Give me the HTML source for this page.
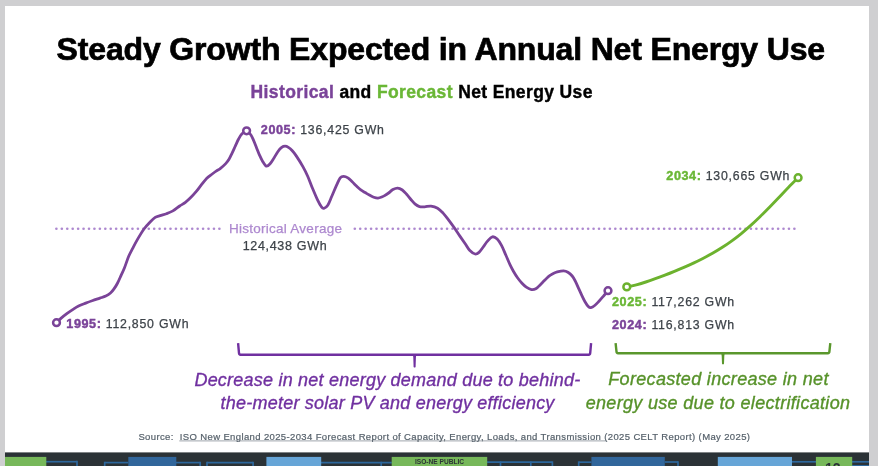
<!DOCTYPE html>
<html><head><meta charset="utf-8"><style>
html,body{margin:0;padding:0;background:#cfcfd1;}
body{width:878px;height:466px;overflow:hidden;position:relative;}
.slide{position:absolute;left:5px;top:6px;width:864px;height:460px;background:#fff;}
svg{position:absolute;left:0;top:0;will-change:transform;font-family:"Liberation Sans",sans-serif;}
</style></head><body>
<div class="slide"></div>
<svg width="878" height="466" viewBox="0 0 878 466">
<circle cx="56.40" cy="228.7" r="1.3" fill="#ad88cf"/>
<circle cx="61.83" cy="228.7" r="1.3" fill="#ad88cf"/>
<circle cx="67.27" cy="228.7" r="1.3" fill="#ad88cf"/>
<circle cx="72.70" cy="228.7" r="1.3" fill="#ad88cf"/>
<circle cx="78.13" cy="228.7" r="1.3" fill="#ad88cf"/>
<circle cx="83.56" cy="228.7" r="1.3" fill="#ad88cf"/>
<circle cx="89.00" cy="228.7" r="1.3" fill="#ad88cf"/>
<circle cx="94.43" cy="228.7" r="1.3" fill="#ad88cf"/>
<circle cx="99.86" cy="228.7" r="1.3" fill="#ad88cf"/>
<circle cx="105.30" cy="228.7" r="1.3" fill="#ad88cf"/>
<circle cx="110.73" cy="228.7" r="1.3" fill="#ad88cf"/>
<circle cx="116.16" cy="228.7" r="1.3" fill="#ad88cf"/>
<circle cx="121.60" cy="228.7" r="1.3" fill="#ad88cf"/>
<circle cx="127.03" cy="228.7" r="1.3" fill="#ad88cf"/>
<circle cx="132.46" cy="228.7" r="1.3" fill="#ad88cf"/>
<circle cx="137.90" cy="228.7" r="1.3" fill="#ad88cf"/>
<circle cx="143.33" cy="228.7" r="1.3" fill="#ad88cf"/>
<circle cx="148.76" cy="228.7" r="1.3" fill="#ad88cf"/>
<circle cx="154.19" cy="228.7" r="1.3" fill="#ad88cf"/>
<circle cx="159.63" cy="228.7" r="1.3" fill="#ad88cf"/>
<circle cx="165.06" cy="228.7" r="1.3" fill="#ad88cf"/>
<circle cx="170.49" cy="228.7" r="1.3" fill="#ad88cf"/>
<circle cx="175.93" cy="228.7" r="1.3" fill="#ad88cf"/>
<circle cx="181.36" cy="228.7" r="1.3" fill="#ad88cf"/>
<circle cx="186.79" cy="228.7" r="1.3" fill="#ad88cf"/>
<circle cx="192.22" cy="228.7" r="1.3" fill="#ad88cf"/>
<circle cx="197.66" cy="228.7" r="1.3" fill="#ad88cf"/>
<circle cx="203.09" cy="228.7" r="1.3" fill="#ad88cf"/>
<circle cx="208.52" cy="228.7" r="1.3" fill="#ad88cf"/>
<circle cx="213.96" cy="228.7" r="1.3" fill="#ad88cf"/>
<circle cx="219.39" cy="228.7" r="1.3" fill="#ad88cf"/>
<circle cx="354.80" cy="228.7" r="1.3" fill="#ad88cf"/>
<circle cx="360.23" cy="228.7" r="1.3" fill="#ad88cf"/>
<circle cx="365.65" cy="228.7" r="1.3" fill="#ad88cf"/>
<circle cx="371.08" cy="228.7" r="1.3" fill="#ad88cf"/>
<circle cx="376.51" cy="228.7" r="1.3" fill="#ad88cf"/>
<circle cx="381.94" cy="228.7" r="1.3" fill="#ad88cf"/>
<circle cx="387.36" cy="228.7" r="1.3" fill="#ad88cf"/>
<circle cx="392.79" cy="228.7" r="1.3" fill="#ad88cf"/>
<circle cx="398.22" cy="228.7" r="1.3" fill="#ad88cf"/>
<circle cx="403.64" cy="228.7" r="1.3" fill="#ad88cf"/>
<circle cx="409.07" cy="228.7" r="1.3" fill="#ad88cf"/>
<circle cx="414.50" cy="228.7" r="1.3" fill="#ad88cf"/>
<circle cx="419.92" cy="228.7" r="1.3" fill="#ad88cf"/>
<circle cx="425.35" cy="228.7" r="1.3" fill="#ad88cf"/>
<circle cx="430.78" cy="228.7" r="1.3" fill="#ad88cf"/>
<circle cx="436.21" cy="228.7" r="1.3" fill="#ad88cf"/>
<circle cx="441.63" cy="228.7" r="1.3" fill="#ad88cf"/>
<circle cx="447.06" cy="228.7" r="1.3" fill="#ad88cf"/>
<circle cx="452.49" cy="228.7" r="1.3" fill="#ad88cf"/>
<circle cx="457.91" cy="228.7" r="1.3" fill="#ad88cf"/>
<circle cx="463.34" cy="228.7" r="1.3" fill="#ad88cf"/>
<circle cx="468.77" cy="228.7" r="1.3" fill="#ad88cf"/>
<circle cx="474.19" cy="228.7" r="1.3" fill="#ad88cf"/>
<circle cx="479.62" cy="228.7" r="1.3" fill="#ad88cf"/>
<circle cx="485.05" cy="228.7" r="1.3" fill="#ad88cf"/>
<circle cx="490.48" cy="228.7" r="1.3" fill="#ad88cf"/>
<circle cx="495.90" cy="228.7" r="1.3" fill="#ad88cf"/>
<circle cx="501.33" cy="228.7" r="1.3" fill="#ad88cf"/>
<circle cx="506.76" cy="228.7" r="1.3" fill="#ad88cf"/>
<circle cx="512.18" cy="228.7" r="1.3" fill="#ad88cf"/>
<circle cx="517.61" cy="228.7" r="1.3" fill="#ad88cf"/>
<circle cx="523.04" cy="228.7" r="1.3" fill="#ad88cf"/>
<circle cx="528.46" cy="228.7" r="1.3" fill="#ad88cf"/>
<circle cx="533.89" cy="228.7" r="1.3" fill="#ad88cf"/>
<circle cx="539.32" cy="228.7" r="1.3" fill="#ad88cf"/>
<circle cx="544.75" cy="228.7" r="1.3" fill="#ad88cf"/>
<circle cx="550.17" cy="228.7" r="1.3" fill="#ad88cf"/>
<circle cx="555.60" cy="228.7" r="1.3" fill="#ad88cf"/>
<circle cx="561.03" cy="228.7" r="1.3" fill="#ad88cf"/>
<circle cx="566.45" cy="228.7" r="1.3" fill="#ad88cf"/>
<circle cx="571.88" cy="228.7" r="1.3" fill="#ad88cf"/>
<circle cx="577.31" cy="228.7" r="1.3" fill="#ad88cf"/>
<circle cx="582.73" cy="228.7" r="1.3" fill="#ad88cf"/>
<circle cx="588.16" cy="228.7" r="1.3" fill="#ad88cf"/>
<circle cx="593.59" cy="228.7" r="1.3" fill="#ad88cf"/>
<circle cx="599.01" cy="228.7" r="1.3" fill="#ad88cf"/>
<circle cx="604.44" cy="228.7" r="1.3" fill="#ad88cf"/>
<circle cx="609.87" cy="228.7" r="1.3" fill="#ad88cf"/>
<circle cx="615.30" cy="228.7" r="1.3" fill="#ad88cf"/>
<circle cx="620.72" cy="228.7" r="1.3" fill="#ad88cf"/>
<circle cx="626.15" cy="228.7" r="1.3" fill="#ad88cf"/>
<circle cx="631.58" cy="228.7" r="1.3" fill="#ad88cf"/>
<circle cx="637.00" cy="228.7" r="1.3" fill="#ad88cf"/>
<circle cx="642.43" cy="228.7" r="1.3" fill="#ad88cf"/>
<circle cx="647.86" cy="228.7" r="1.3" fill="#ad88cf"/>
<circle cx="653.28" cy="228.7" r="1.3" fill="#ad88cf"/>
<circle cx="658.71" cy="228.7" r="1.3" fill="#ad88cf"/>
<circle cx="664.14" cy="228.7" r="1.3" fill="#ad88cf"/>
<circle cx="669.57" cy="228.7" r="1.3" fill="#ad88cf"/>
<circle cx="674.99" cy="228.7" r="1.3" fill="#ad88cf"/>
<circle cx="680.42" cy="228.7" r="1.3" fill="#ad88cf"/>
<circle cx="685.85" cy="228.7" r="1.3" fill="#ad88cf"/>
<circle cx="691.27" cy="228.7" r="1.3" fill="#ad88cf"/>
<circle cx="696.70" cy="228.7" r="1.3" fill="#ad88cf"/>
<circle cx="702.13" cy="228.7" r="1.3" fill="#ad88cf"/>
<circle cx="707.56" cy="228.7" r="1.3" fill="#ad88cf"/>
<circle cx="712.98" cy="228.7" r="1.3" fill="#ad88cf"/>
<circle cx="718.41" cy="228.7" r="1.3" fill="#ad88cf"/>
<circle cx="723.84" cy="228.7" r="1.3" fill="#ad88cf"/>
<circle cx="729.26" cy="228.7" r="1.3" fill="#ad88cf"/>
<circle cx="734.69" cy="228.7" r="1.3" fill="#ad88cf"/>
<circle cx="740.12" cy="228.7" r="1.3" fill="#ad88cf"/>
<circle cx="745.54" cy="228.7" r="1.3" fill="#ad88cf"/>
<circle cx="750.97" cy="228.7" r="1.3" fill="#ad88cf"/>
<circle cx="756.40" cy="228.7" r="1.3" fill="#ad88cf"/>
<circle cx="761.83" cy="228.7" r="1.3" fill="#ad88cf"/>
<circle cx="767.25" cy="228.7" r="1.3" fill="#ad88cf"/>
<circle cx="772.68" cy="228.7" r="1.3" fill="#ad88cf"/>
<circle cx="778.11" cy="228.7" r="1.3" fill="#ad88cf"/>
<circle cx="783.53" cy="228.7" r="1.3" fill="#ad88cf"/>
<circle cx="788.96" cy="228.7" r="1.3" fill="#ad88cf"/>
<circle cx="794.39" cy="228.7" r="1.3" fill="#ad88cf"/>
<path d="M56.50,322.70 C57.23,321.98 59.18,319.90 60.90,318.40 C62.62,316.90 64.83,315.17 66.80,313.70 C68.77,312.23 70.73,310.88 72.70,309.60 C74.67,308.32 76.43,307.08 78.60,306.00 C80.77,304.92 83.33,304.02 85.70,303.10 C88.07,302.18 90.43,301.33 92.80,300.50 C95.17,299.67 97.73,298.85 99.90,298.10 C102.07,297.35 104.03,296.85 105.80,296.00 C107.57,295.15 109.13,294.18 110.50,293.00 C111.87,291.82 112.82,290.57 114.00,288.90 C115.18,287.23 116.40,285.30 117.60,283.00 C118.80,280.70 120.07,277.60 121.20,275.10 C122.33,272.60 123.15,271.13 124.40,268.00 C125.65,264.87 127.32,259.58 128.70,256.30 C130.08,253.02 131.23,251.12 132.70,248.30 C134.17,245.48 135.62,242.62 137.50,239.40 C139.38,236.18 141.85,231.95 144.00,229.00 C146.15,226.05 148.53,223.63 150.40,221.70 C152.27,219.77 153.58,218.42 155.20,217.40 C156.82,216.38 158.22,216.22 160.10,215.60 C161.98,214.98 164.37,214.48 166.50,213.70 C168.63,212.92 170.70,212.18 172.90,210.90 C175.10,209.62 177.62,207.42 179.70,206.00 C181.78,204.58 183.57,203.80 185.40,202.40 C187.23,201.00 188.92,199.38 190.70,197.60 C192.48,195.82 194.30,193.85 196.10,191.70 C197.90,189.55 199.72,186.95 201.50,184.70 C203.28,182.45 205.02,179.98 206.80,178.20 C208.58,176.42 210.58,175.22 212.20,174.00 C213.82,172.78 215.17,171.80 216.50,170.90 C217.83,170.00 218.67,169.82 220.20,168.60 C221.73,167.38 224.23,165.15 225.70,163.60 C227.17,162.05 227.92,161.08 229.00,159.30 C230.08,157.52 231.13,155.13 232.20,152.90 C233.27,150.67 234.33,148.22 235.40,145.90 C236.47,143.58 237.53,140.97 238.60,139.00 C239.67,137.03 240.47,135.47 241.80,134.10 C243.13,132.73 245.10,130.68 246.60,130.80 C248.10,130.92 249.62,133.17 250.80,134.80 C251.98,136.43 252.73,138.42 253.70,140.60 C254.67,142.78 255.63,145.48 256.60,147.90 C257.57,150.32 258.53,152.93 259.50,155.10 C260.47,157.27 261.27,159.07 262.40,160.90 C263.53,162.73 265.02,165.62 266.30,166.10 C267.58,166.58 268.82,165.15 270.10,163.80 C271.38,162.45 272.72,160.02 274.00,158.00 C275.28,155.98 276.52,153.47 277.80,151.70 C279.08,149.93 280.48,148.32 281.70,147.40 C282.92,146.48 283.98,146.20 285.10,146.20 C286.22,146.20 287.20,146.63 288.40,147.40 C289.60,148.17 290.97,149.35 292.30,150.80 C293.63,152.25 294.63,153.47 296.40,156.10 C298.17,158.73 301.02,163.25 302.90,166.60 C304.78,169.95 306.10,172.58 307.70,176.20 C309.30,179.82 310.88,184.40 312.50,188.30 C314.12,192.20 315.92,196.52 317.40,199.60 C318.88,202.68 320.33,205.33 321.40,206.80 C322.47,208.27 322.73,208.67 323.80,208.40 C324.87,208.13 326.47,207.22 327.80,205.20 C329.13,203.18 330.32,199.68 331.80,196.30 C333.28,192.92 335.30,187.97 336.70,184.90 C338.10,181.83 339.05,179.32 340.20,177.90 C341.35,176.48 342.32,176.40 343.60,176.40 C344.88,176.40 346.47,177.00 347.90,177.90 C349.33,178.80 350.77,180.45 352.20,181.80 C353.63,183.15 355.07,184.65 356.50,186.00 C357.93,187.35 359.37,188.82 360.80,189.90 C362.23,190.98 363.67,191.63 365.10,192.50 C366.53,193.37 367.97,194.32 369.40,195.10 C370.83,195.88 372.27,196.70 373.70,197.20 C375.13,197.70 376.57,198.17 378.00,198.10 C379.43,198.03 381.20,197.22 382.30,196.80 C383.40,196.38 383.55,196.23 384.60,195.60 C385.65,194.97 387.22,194.00 388.60,193.00 C389.98,192.00 391.40,190.42 392.90,189.60 C394.40,188.78 396.03,188.03 397.60,188.10 C399.17,188.17 400.80,188.97 402.30,190.00 C403.80,191.03 405.17,192.72 406.60,194.30 C408.03,195.88 409.47,197.85 410.90,199.50 C412.33,201.15 413.77,203.02 415.20,204.20 C416.63,205.38 417.92,206.17 419.50,206.60 C421.08,207.03 422.78,206.88 424.70,206.80 C426.62,206.72 428.85,205.87 431.00,206.10 C433.15,206.33 435.58,207.03 437.60,208.20 C439.62,209.37 441.25,211.12 443.10,213.10 C444.95,215.08 446.83,217.65 448.70,220.10 C450.57,222.55 452.43,225.13 454.30,227.80 C456.17,230.47 458.08,233.45 459.90,236.10 C461.72,238.75 463.58,241.35 465.20,243.70 C466.82,246.05 467.93,248.48 469.60,250.20 C471.27,251.92 473.63,253.63 475.20,254.00 C476.77,254.37 477.67,253.57 479.00,252.40 C480.33,251.23 481.78,248.88 483.20,247.00 C484.62,245.12 485.97,242.80 487.50,241.10 C489.03,239.40 490.78,237.15 492.40,236.80 C494.02,236.45 495.68,237.57 497.20,239.00 C498.72,240.43 500.07,242.73 501.50,245.40 C502.93,248.07 504.37,251.75 505.80,255.00 C507.23,258.25 508.83,262.20 510.10,264.90 C511.37,267.60 512.13,269.02 513.40,271.20 C514.67,273.38 516.27,276.00 517.70,278.00 C519.13,280.00 520.57,281.68 522.00,283.20 C523.43,284.72 524.72,286.03 526.30,287.10 C527.88,288.17 529.92,289.32 531.50,289.60 C533.08,289.88 534.37,289.58 535.80,288.80 C537.23,288.02 538.67,286.27 540.10,284.90 C541.53,283.53 542.97,282.03 544.40,280.60 C545.83,279.17 547.27,277.45 548.70,276.30 C550.13,275.15 551.57,274.43 553.00,273.70 C554.43,272.97 555.53,272.38 557.30,271.90 C559.07,271.42 561.83,270.75 563.60,270.80 C565.37,270.85 566.47,271.33 567.90,272.20 C569.33,273.07 570.95,274.48 572.20,276.00 C573.45,277.52 574.33,279.25 575.40,281.30 C576.47,283.35 577.53,285.97 578.60,288.30 C579.67,290.63 580.73,293.07 581.80,295.30 C582.87,297.53 583.92,299.83 585.00,301.70 C586.08,303.57 587.32,305.52 588.30,306.50 C589.28,307.48 589.83,307.77 590.90,307.60 C591.97,307.43 593.35,306.57 594.70,305.50 C596.05,304.43 597.57,302.73 599.00,301.20 C600.43,299.67 601.80,298.05 603.30,296.30 C604.80,294.55 607.22,291.63 608.00,290.70" fill="none" stroke="#7a4398" stroke-width="2.8" stroke-linecap="round" stroke-linejoin="round"/>
<path d="M626.80,286.97 C628.38,286.62 633.13,285.68 636.30,284.85 C639.47,284.02 642.63,283.02 645.80,282.00 C648.97,280.98 652.12,279.86 655.30,278.72 C658.48,277.58 661.72,276.38 664.90,275.15 C668.08,273.92 671.23,272.67 674.40,271.37 C677.57,270.07 680.73,268.76 683.90,267.38 C687.07,266.00 690.23,264.60 693.40,263.11 C696.57,261.62 699.72,260.09 702.90,258.46 C706.08,256.83 709.32,255.14 712.50,253.32 C715.68,251.50 718.83,249.60 722.00,247.56 C725.17,245.52 728.33,243.37 731.50,241.07 C734.67,238.77 737.83,236.35 741.00,233.78 C744.17,231.21 747.33,228.50 750.50,225.67 C753.67,222.83 756.83,219.84 760.00,216.77 C763.17,213.70 766.32,210.47 769.50,207.22 C772.68,203.97 775.92,200.59 779.10,197.26 C782.28,193.93 785.43,190.51 788.60,187.25 C791.77,183.99 796.52,179.28 798.10,177.69" fill="none" stroke="#6cb22e" stroke-width="2.9" stroke-linecap="round" stroke-linejoin="round"/>
<circle cx="56.5" cy="322.7" r="3.4" fill="#fff" stroke="#7a4398" stroke-width="2.5"/>
<circle cx="246.6" cy="130.8" r="3.4" fill="#fff" stroke="#7a4398" stroke-width="2.5"/>
<circle cx="608.0" cy="290.7" r="3.4" fill="#fff" stroke="#7a4398" stroke-width="2.5"/>
<circle cx="626.8" cy="286.9" r="3.4" fill="#fff" stroke="#6cb22e" stroke-width="2.5"/>
<circle cx="798.1" cy="177.7" r="3.4" fill="#fff" stroke="#6cb22e" stroke-width="2.5"/>
<path d="M238.1,343.2 L239.0,353.09999999999997 Q239.0,354.7 240.6,354.7 L588.6,354.7 Q590.2,354.7 590.2,353.09999999999997 L591.1,343.2" fill="none" stroke="#7030a0" stroke-width="2.4" stroke-linecap="butt" stroke-linejoin="round"/><path d="M412.6,354.7 Q413.3,355.7 413.3,357.7 L413.6,366.9 Q414.6,368.09999999999997 415.6,366.9 L415.90000000000003,357.7 Q415.90000000000003,355.7 416.6,354.7 Z" fill="#7030a0"/>
<path d="M615.6,343.2 L616.5,351.59999999999997 Q616.5,353.2 618.1,353.2 L827.8,353.2 Q829.4,353.2 829.4,351.59999999999997 L830.3,343.2" fill="none" stroke="#5a972c" stroke-width="2.4" stroke-linecap="butt" stroke-linejoin="round"/><path d="M721.0,353.2 Q721.7,354.2 721.7,356.2 L722.0,363.8 Q723,365.0 724.0,363.8 L724.3,356.2 Q724.3,354.2 725.0,353.2 Z" fill="#5a972c"/>
<text x="56.6" y="60.1" font-family="'Liberation Sans', sans-serif" font-size="32" font-weight="bold" font-style="normal" letter-spacing="-0.16" fill="#000" text-anchor="start" stroke="#000" stroke-width="0.7">Steady Growth Expected in Annual Net Energy Use</text>
<text x="250.6" y="97.7" font-family="'Liberation Sans', sans-serif" font-size="17.5" font-weight="bold" letter-spacing="0.38" stroke-width="0.4"><tspan fill="#7a4399" stroke="#7a4399">Historical</tspan><tspan fill="#000" stroke="#000"> and </tspan><tspan fill="#6ab736" stroke="#6ab736">Forecast</tspan><tspan fill="#000" stroke="#000"> Net Energy Use</tspan></text>
<text x="285.6" y="232.9" font-family="'Liberation Sans', sans-serif" font-size="13.5" font-weight="normal" font-style="normal" letter-spacing="0.26" fill="#ad88cf" text-anchor="middle" stroke="#ad88cf" stroke-width="0.25">Historical Average</text>
<text x="285" y="249.6" font-family="'Liberation Sans', sans-serif" font-size="12.5" font-weight="normal" font-style="normal" letter-spacing="0.68" fill="#3d4349" text-anchor="middle" stroke="#3d4349" stroke-width="0.25">124,438 GWh</text>
<text x="260.8" y="133.6" font-family="'Liberation Sans', sans-serif" font-size="12.3" letter-spacing="0.78"><tspan fill="#7a4399" stroke="#7a4399" stroke-width="0.45" font-weight="bold" font-size="12.6" letter-spacing="0.6">2005:</tspan><tspan fill="#3d4349" stroke="#3d4349" stroke-width="0.25"> 136,425 GWh</tspan></text>
<text x="66.3" y="327.6" font-family="'Liberation Sans', sans-serif" font-size="12.3" letter-spacing="0.78"><tspan fill="#7a4399" stroke="#7a4399" stroke-width="0.45" font-weight="bold" font-size="12.6" letter-spacing="0.6">1995:</tspan><tspan fill="#3d4349" stroke="#3d4349" stroke-width="0.25"> 112,850 GWh</tspan></text>
<text x="612" y="305.5" font-family="'Liberation Sans', sans-serif" font-size="12.3" letter-spacing="0.78"><tspan fill="#6ab736" stroke="#6ab736" stroke-width="0.45" font-weight="bold" font-size="12.6" letter-spacing="0.6">2025:</tspan><tspan fill="#3d4349" stroke="#3d4349" stroke-width="0.25"> 117,262 GWh</tspan></text>
<text x="612" y="328.6" font-family="'Liberation Sans', sans-serif" font-size="12.3" letter-spacing="0.78"><tspan fill="#7a4399" stroke="#7a4399" stroke-width="0.45" font-weight="bold" font-size="12.6" letter-spacing="0.6">2024:</tspan><tspan fill="#3d4349" stroke="#3d4349" stroke-width="0.25"> 116,813 GWh</tspan></text>
<text x="666.3" y="180.4" font-family="'Liberation Sans', sans-serif" font-size="12.3" letter-spacing="0.78"><tspan fill="#6ab736" stroke="#6ab736" stroke-width="0.45" font-weight="bold" font-size="12.6" letter-spacing="0.6">2034:</tspan><tspan fill="#3d4349" stroke="#3d4349" stroke-width="0.25"> 130,665 GWh</tspan></text>
<text x="387.4" y="385.6" font-family="'Liberation Sans', sans-serif" font-size="18" font-weight="normal" font-style="italic" letter-spacing="0.22" fill="#7030a0" text-anchor="middle" stroke="#7030a0" stroke-width="0.35">Decrease in net energy demand due to behind-</text>
<text x="387.6" y="408.6" font-family="'Liberation Sans', sans-serif" font-size="18" font-weight="normal" font-style="italic" letter-spacing="0.22" fill="#7030a0" text-anchor="middle" stroke="#7030a0" stroke-width="0.35">the-meter solar PV and energy efficiency</text>
<text x="718.5" y="384.6" font-family="'Liberation Sans', sans-serif" font-size="18" font-weight="normal" font-style="italic" letter-spacing="0.32" fill="#57922a" text-anchor="middle" stroke="#57922a" stroke-width="0.35">Forecasted increase in net</text>
<text x="718.0" y="408.6" font-family="'Liberation Sans', sans-serif" font-size="18" font-weight="normal" font-style="italic" letter-spacing="0.32" fill="#57922a" text-anchor="middle" stroke="#57922a" stroke-width="0.35">energy use due to electrification</text>
<text x="138.4" y="439.6" font-family="'Liberation Sans', sans-serif" font-size="9.5" letter-spacing="0.373" fill="#56616b" stroke="#56616b" stroke-width="0.2">Source:&#160; ISO New England 2025-2034 Forecast Report of Capacity, Energy, Loads, and Transmission (2025 CELT Report) (May 2025)</text>
<line x1="179.3" y1="440.9" x2="605.8" y2="440.9" stroke="#56616b" stroke-width="0.7" opacity="0.8"/>
<rect x="5" y="452.4" width="864" height="14" fill="#2b3236"/>
<line x1="46" y1="461.7" x2="77" y2="461.7" stroke="#2d679c" stroke-width="1.7"/>
<line x1="104.7" y1="462.6" x2="128.3" y2="462.6" stroke="#2d679c" stroke-width="1.7"/>
<line x1="176" y1="462.6" x2="200.2" y2="462.6" stroke="#2d679c" stroke-width="1.7"/>
<line x1="207" y1="462.6" x2="253.1" y2="462.6" stroke="#2d679c" stroke-width="1.7"/>
<line x1="321" y1="462.6" x2="391.8" y2="462.6" stroke="#2d679c" stroke-width="1.7"/>
<line x1="487" y1="462.2" x2="552.4" y2="462.2" stroke="#2d679c" stroke-width="1.7"/>
<line x1="578.7" y1="462.2" x2="591.4" y2="462.2" stroke="#2d679c" stroke-width="1.7"/>
<line x1="665" y1="462.0" x2="678" y2="462.0" stroke="#2d679c" stroke-width="1.7"/>
<line x1="792" y1="461.8" x2="816" y2="461.8" stroke="#2d679c" stroke-width="1.7"/>
<line x1="852" y1="461.8" x2="869" y2="461.8" stroke="#2d679c" stroke-width="1.7"/>
<line x1="852" y1="465.8" x2="869" y2="465.8" stroke="#2d679c" stroke-width="1.7"/>
<line x1="77" y1="460.84999999999997" x2="77" y2="467" stroke="#2d679c" stroke-width="1.7"/>
<line x1="104.7" y1="461.75" x2="104.7" y2="467" stroke="#2d679c" stroke-width="1.7"/>
<line x1="200.2" y1="461.75" x2="200.2" y2="467" stroke="#2d679c" stroke-width="1.7"/>
<line x1="207" y1="461.75" x2="207" y2="467" stroke="#2d679c" stroke-width="1.7"/>
<line x1="253.1" y1="461.75" x2="253.1" y2="467" stroke="#2d679c" stroke-width="1.7"/>
<line x1="381.2" y1="461.75" x2="381.2" y2="467" stroke="#2d679c" stroke-width="1.7"/>
<line x1="500.5" y1="461.34999999999997" x2="500.5" y2="467" stroke="#2d679c" stroke-width="1.7"/>
<line x1="530.8" y1="461.34999999999997" x2="530.8" y2="467" stroke="#2d679c" stroke-width="1.7"/>
<line x1="552.4" y1="461.34999999999997" x2="552.4" y2="467" stroke="#2d679c" stroke-width="1.7"/>
<line x1="578.7" y1="461.34999999999997" x2="578.7" y2="467" stroke="#2d679c" stroke-width="1.7"/>
<line x1="678" y1="461.15" x2="678" y2="467" stroke="#2d679c" stroke-width="1.7"/>
<rect x="5" y="456.9" width="41.3" height="10" fill="#77b85a"/>
<rect x="391.7" y="456.9" width="95.5" height="10" fill="#77b85a"/>
<rect x="815.9" y="456.9" width="36.30000000000007" height="10" fill="#77b85a"/>
<rect x="128.3" y="456.9" width="48.0" height="10" fill="#31669b"/>
<rect x="591.4" y="456.9" width="73.39999999999998" height="10" fill="#31669b"/>
<rect x="266.4" y="456.9" width="54.80000000000001" height="10" fill="#66a5d7"/>
<rect x="717.8" y="456.9" width="74.20000000000005" height="10" fill="#66a5d7"/>
<text x="439.5" y="463.6" font-family="'Liberation Sans', sans-serif" font-size="6.6" font-weight="bold" fill="#2b3236" text-anchor="middle">ISO-NE PUBLIC</text>
<text x="832.8" y="473.3" font-family="'Liberation Sans', sans-serif" font-size="14" font-weight="bold" fill="#2b3236" text-anchor="middle">12</text>
</svg>
</body></html>
